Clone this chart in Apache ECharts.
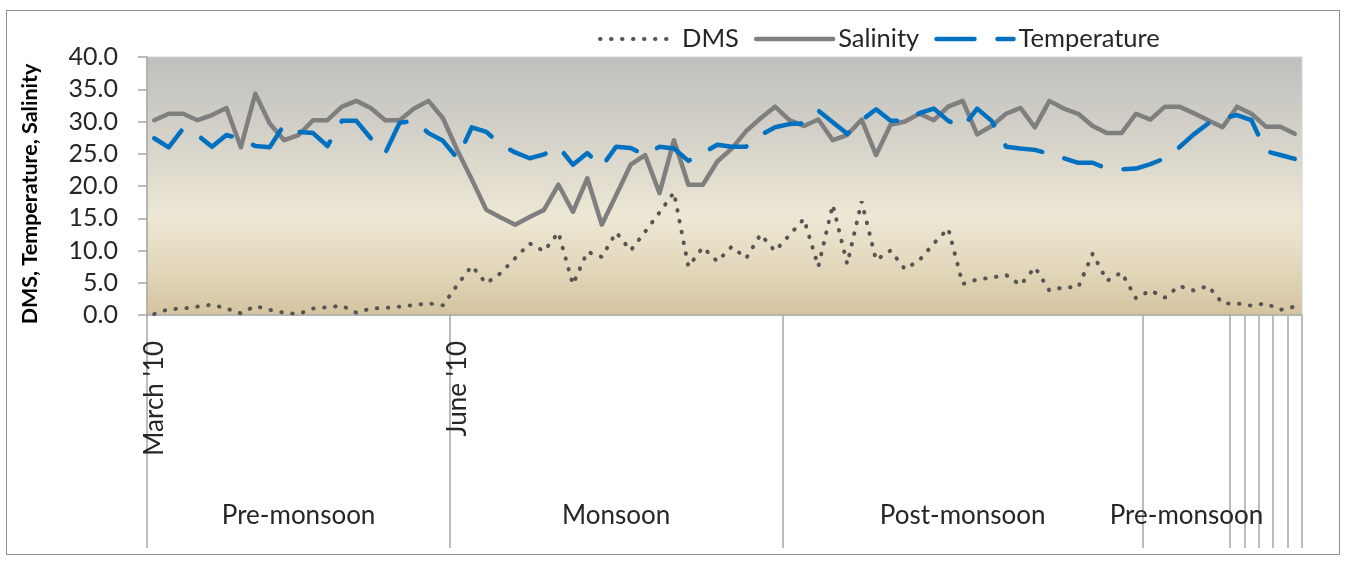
<!DOCTYPE html>
<html>
<head>
<meta charset="utf-8">
<script src="https://cdn.jsdelivr.net/npm/echarts@6.0.0/dist/echarts.min.js"></script>
<style>
  html, body { margin: 0; padding: 0; background: #ffffff; }
  #chart { width: 1354px; height: 562px; position: absolute; left: 0; top: 0; }
  #frame { position: absolute; left: 6px; top: 10px; width: 1334px; height: 545px;
           border: 1.5px solid #8f8f8f; pointer-events: none; box-sizing: border-box; }
</style>
</head>
<body>
<div id="chart"></div>
<div id="frame"></div>
<script>
// ---- data ----
const seriesNames = ['DMS', 'Salinity', 'Temperature'];

const dms = [0.15,0.9,1.0,1.3,1.6,1.0,0.25,1.4,0.8,0.35,
  0.15,1.0,1.2,1.45,0.35,1.0,1.1,1.3,1.55,1.8,
  1.5,4.7,7.6,4.9,6.5,8.8,11.1,9.9,12.8,4.75,
  9.8,9.0,12.8,10.0,12.9,15.9,19.0,7.5,10.5,8.3,
  10.6,8.8,12.5,9.9,12.4,14.9,7.5,17.1,7.9,17.6,
  8.5,10.0,7.1,8.5,11.1,13.4,4.8,5.5,5.8,6.2,
  4.65,7.4,3.8,4.3,4.3,9.5,5.3,6.6,2.6,3.8,
  2.7,4.5,3.8,4.5,1.8,1.8,1.45,1.8,0.8,1.3];

const salinity = [30.2,31.2,31.2,30.2,31.0,32.1,26.0,34.3,29.7,27.1,
  27.9,30.2,30.2,32.3,33.2,32.1,30.2,30.2,32.0,33.2,
  30.5,25.5,21.0,16.3,15.1,14.0,15.2,16.3,20.2,16.0,
  21.2,14.0,18.6,23.3,24.8,18.9,27.1,20.2,20.2,23.8,
  25.8,28.5,30.5,32.3,30.2,29.3,30.3,27.1,27.9,30.3,
  24.8,29.5,30.0,31.2,30.2,32.3,33.2,28.0,29.3,31.2,
  32.1,29.1,33.2,32.0,31.2,29.3,28.2,28.2,31.2,30.3,
  32.3,32.3,31.3,30.2,29.1,32.3,31.2,29.2,29.2,28.1];

const temperature = [27.4,26.0,28.9,27.9,26.1,27.9,27.3,26.2,26.0,29.5,
  28.4,28.2,26.2,30.1,30.1,27.4,25.1,29.8,30.1,28.2,
  27.0,24.3,29.1,28.4,26.4,25.2,24.3,24.9,26.1,23.3,
  25.1,23.0,26.1,25.9,24.8,26.1,25.8,23.9,25.1,26.4,
  26.1,26.1,27.9,29.1,29.6,29.7,31.7,29.9,28.1,30.2,
  31.9,30.1,30.1,31.3,32.0,30.1,29.1,32.0,30.1,26.1,
  25.8,25.6,25.0,24.3,23.6,23.6,22.7,22.6,22.7,23.4,
  24.3,26.0,28.0,29.7,30.5,31.0,30.2,25.4,24.8,24.2];

// category axis: 80 samples, month labels at sample starts
const monthLabels = ["March '10", "June '10"];
const monthStartIndex = [0, 21];
// season groups (start index, end index exclusive)
const seasonLabels = ['Pre-monsoon', 'Monsoon', 'Post-monsoon', 'Pre-monsoon'];
const seasonBounds = [0, 21, 44, 69, 75];
const extraDividers = [76, 77, 78, 79, 80];
const yTicks = [0, 5, 10, 15, 20, 25, 30, 35, 40];

// ---- styles ----
const styles = {
  DMS: { color: '#555555', width: 4, type: [0.5, 10.5], cap: 'round' },
  Salinity: { color: '#7f7f7f', width: 4.5, type: 'solid', cap: 'round', join: 'round' },
  Temperature: { color: '#0070c0', width: 4.5, type: [38, 23], cap: 'round', join: 'round' }
};

// ---- build ----
const N = dms.length;
const toPts = arr => arr.map((v, i) => [i + 0.5, v]);
const dividers = seasonBounds.concat(extraDividers);
const monthPos = monthStartIndex.map(i => i + 0.5);
const seasonPos = seasonLabels.map((s, k) => (seasonBounds[k] + seasonBounds[k + 1]) / 2);
const findLabel = (v, pos, labels) => {
  for (let k = 0; k < pos.length; k++) if (Math.abs(pos[k] - v) < 1e-6) return labels[k];
  return '';
};

const FONT = 'Lato';
const chart = echarts.init(document.getElementById('chart'), null, { renderer: 'canvas' });
chart.setOption({
  animation: false,
  backgroundColor: '#ffffff',
  legend: {
    data: seriesNames.map(n => ({
      name: n,
      itemStyle: { color: 'rgba(0,0,0,0)', borderWidth: 0, opacity: 0 },
      lineStyle: Object.assign({}, styles[n])
    })),
    left: 593, top: 21,
    itemWidth: 77, itemHeight: 14, itemGap: 15,
    textStyle: { fontFamily: FONT, fontSize: 25.5, color: '#262626' }
  },
  grid: {
    left: 147, top: 57, width: 1155, height: 258,
    show: true, borderWidth: 1, borderColor: '#d4d4d4',
    backgroundColor: {
      type: 'linear', x: 0, y: 0, x2: 0, y2: 1,
      colorStops: [
        { offset: 0, color: '#bfbfbd' },
        { offset: 0.35, color: '#d7d4ca' },
        { offset: 0.62, color: '#ede7d4' },
        { offset: 0.82, color: '#e2d7bb' },
        { offset: 1, color: '#d4c39e' }
      ]
    }
  },
  xAxis: [{
    type: 'value', min: 0, max: N, position: 'bottom',
    axisLine: { show: true, lineStyle: { color: '#a6a6a6', width: 1.5 } },
    axisTick: { show: true, customValues: dividers, length: 233, inside: false,
                lineStyle: { color: '#a6a6a6', width: 1.5 } },
    axisLabel: { show: true, customValues: monthPos, rotate: 90, margin: 26,
                 formatter: v => findLabel(v, monthPos, monthLabels),
                 fontFamily: FONT, fontSize: 26, color: '#262626' },
    splitLine: { show: false }
  }, {
    type: 'value', min: 0, max: N, position: 'bottom', offset: 0,
    axisLine: { show: false }, axisTick: { show: false },
    axisLabel: { show: true, customValues: seasonPos, margin: 201, verticalAlign: 'middle',
                 formatter: v => findLabel(v, seasonPos, seasonLabels),
                 fontFamily: FONT, fontSize: 26, color: '#262626' },
    splitLine: { show: false }
  }],
  yAxis: {
    type: 'value', min: 0, max: 40, interval: 5,
    name: 'DMS, Temperature, Salinity', nameLocation: 'middle', nameRotate: 90, nameGap: 106,
    nameTextStyle: { fontFamily: FONT, fontSize: 21.5, fontWeight: 'bold', color: '#000000',
                     padding: [0, 16, 0, 0] },
    axisLine: { show: true, lineStyle: { color: '#a6a6a6', width: 1.5 } },
    axisTick: { show: true, length: 9, lineStyle: { color: '#a6a6a6', width: 1.5 } },
    axisLabel: { margin: 29, formatter: v => v.toFixed(1),
                 fontFamily: FONT, fontSize: 25, color: '#262626' },
    splitLine: { show: false }
  },
  series: seriesNames.map((n, k) => ({
    name: n, type: 'line', data: toPts([dms, salinity, temperature][k]), symbol: 'none',
    z: [3, 2, 4][k],
    lineStyle: styles[n],
    itemStyle: { color: styles[n].color }
  }))
});
</script>
</body>
</html>
